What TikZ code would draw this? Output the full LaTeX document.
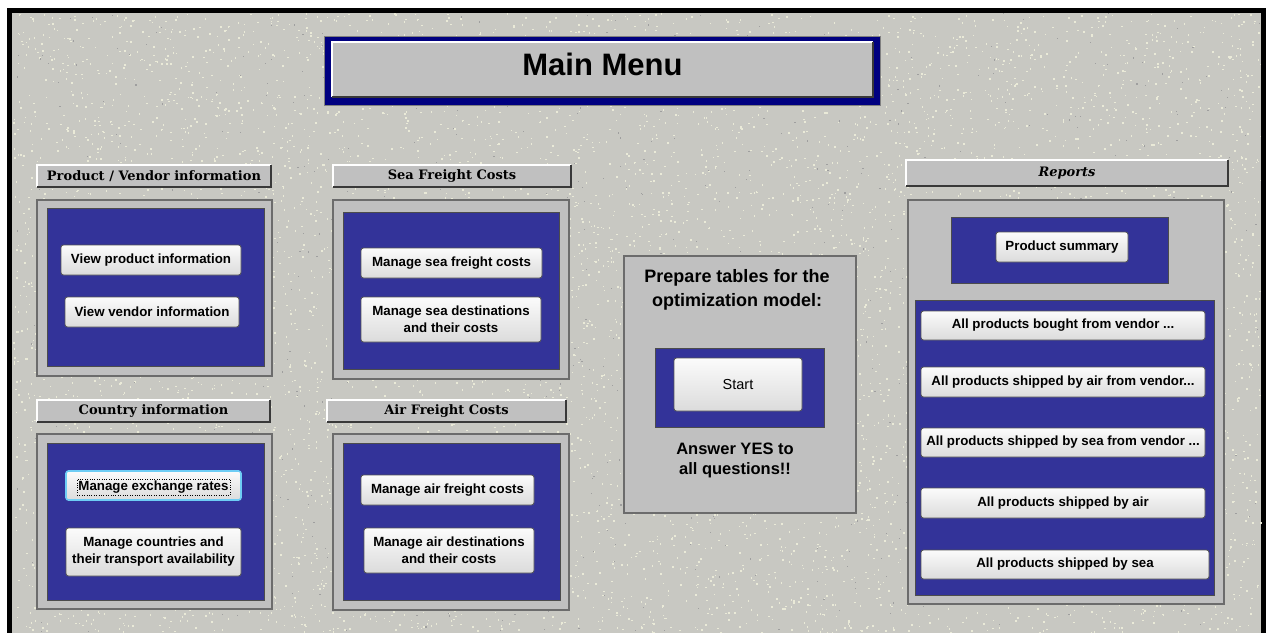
\documentclass[tikz,border=0pt]{standalone}
\usepackage{fontspec}
\setmainfont{Liberation Sans}
\newfontfamily\headfont{DejaVu Serif}

\definecolor{panelgray}{RGB}{192,192,192}
\definecolor{menublue}{RGB}{51,51,153}
\definecolor{navyframe}{RGB}{0,0,128}
\definecolor{bggray}{RGB}{200,200,194}
\definecolor{speck}{RGB}{234,234,216}
\definecolor{focusblue}{RGB}{110,205,245}

\tikzset{
  spot/.style args={#1/#2/#3/#4}{at={(0.5*#1+0.5*#3,0.5*#2+0.5*#4)},
    minimum width={#3-#1}, minimum height={#4-#2}},
  headbar/.style={fill=panelgray, inner sep=0pt, font=\headfont\bfseries\fontsize{13}{15}\selectfont},
  panel/.style={fill=panelgray, draw=gray!85!black, line width=1.2pt, inner sep=0pt},
  bluebox/.style={fill=menublue, draw=gray!60!black, line width=0.8pt, inner sep=0pt},
  btn/.style={rounded corners=2.5pt, draw=gray!65!black, line width=0.8pt,
    top color=white!97!gray, bottom color=gray!28, inner sep=0pt, align=center,
    font=\bfseries\fontsize{13.3}{17}\selectfont},
}

\begin{document}
\begin{tikzpicture}[x=1pt,y=-1pt]
  \useasboundingbox (0,0) rectangle (1268,632);

  % sheet with its speckled texture
  \node[fill=bggray, draw=black, line width=5pt, inner sep=0pt, spot=9.5/10/1263.5/650] (sheet) {};
  \pgfmathsetseed{42}
  \foreach \i in {1,...,7500} {\fill[speck] (13+1247*rnd, 13+620*rnd) rectangle ++(1.5,1.5);}
  \foreach \i in {1,...,700} {\fill[gray!75] (13+1247*rnd, 13+620*rnd) rectangle ++(1.2,1.2);}

  % title
  \node[fill=navyframe, draw=gray, line width=0.5pt, inner sep=0pt, spot=324/36/880/105] (menuframe) {};
  \node[fill=panelgray, inner sep=0pt, text depth=10pt, spot=332/42/873/97, font=\bfseries\fontsize{31}{36}\selectfont] (maintitle) {Main Menu};

  % headings
  \node[headbar, spot=37/165/271/187] (pvhead) {Product / Vendor information};
  \node[headbar, spot=37/400/270/422] (cthead) {Country information};
  \node[headbar, spot=333/165/571/187] (seahead) {Sea Freight Costs};
  \node[headbar, spot=327/400/566/422] (airhead) {Air Freight Costs};
  \node[headbar, spot=906/160/1228/186] (rephead) {\itshape Reports};
  \foreach \h in {maintitle,pvhead,cthead,seahead,airhead,rephead} {
    \draw[white, line width=1.5pt] (\h.south west) |- (\h.north east);
    \draw[gray!45!black, line width=2pt] (\h.south west) -| (\h.north east);
  }

  % panels
  \node[panel, spot=37/200/272/376] (pvpanel) {};
  \node[bluebox, spot=47/208/264/366] (pvblue) {};
  \node[panel, spot=37/434/272/609] (ctpanel) {};
  \node[bluebox, spot=47/443/264/600] (ctblue) {};
  \node[panel, spot=333/200/569/379] (seapanel) {};
  \node[bluebox, spot=343/212/559/369] (seablue) {};
  \node[panel, spot=333/434/569/610] (airpanel) {};
  \node[bluebox, spot=343/443/560/600] (airblue) {};
  \node[panel, spot=624/256/856/513] (preppanel) {};
  \node[bluebox, spot=655/348/824/427] (startblue) {};
  \node[panel, spot=908/200/1224/604] (reppanel) {};
  \node[bluebox, spot=951/217/1168/283] (sumblue) {};
  \node[bluebox, spot=915/300/1214/595] (listblue) {};

  % buttons
  \node[btn, spot=61/245/241/275] (viewprod) {View product information};
  \node[btn, spot=65/297/239/327] (viewvend) {View vendor information};
  \node[btn, draw=focusblue, line width=1.6pt, spot=66/471/241/500] (exch) {};
  \node[draw, dotted, thin, inner xsep=1.5pt, inner ysep=2pt, font=\bfseries\fontsize{13.3}{17}\selectfont] (exchtxt) at ([yshift=-1.5pt]exch.center) {Manage exchange rates};
  \node[btn, spot=66/528/241/576] (countries) {Manage countries and\\their transport availability};
  \node[btn, spot=361/248/542/278] (seacost) {Manage sea freight costs};
  \node[btn, spot=361/297/541/342] (seadest) {Manage sea destinations\\and their costs};
  \node[btn, spot=361/475/534/505] (aircost) {Manage air freight costs};
  \node[btn, spot=364/528/534/573] (airdest) {Manage air destinations\\and their costs};
  \node[btn, spot=674/358/802/411, font=\fontsize{14.5}{17}\selectfont] (start) {Start};
  \node[btn, spot=996/232/1128/262] (prodsum) {Product summary};
  \node[btn, spot=921/311/1205/340] (rep1) {All products bought from vendor ...};
  \node[btn, spot=921/367/1205/397] (rep2) {All products shipped by air from vendor...};
  \node[btn, spot=921/428/1205/457] (rep3) {All products shipped by sea from vendor ...};
  \node[btn, spot=921/488/1205/518] (rep4) {All products shipped by air};
  \node[btn, spot=921/550/1209/579] (rep5) {All products shipped by sea};

  % texts of the middle panel
  \node[align=center, font=\bfseries\fontsize{18}{23.5}\selectfont] (preptxt) at (737,290) {Prepare tables for the\\optimization model:};
  \node[align=center, font=\bfseries\fontsize{16.5}{20}\selectfont] (answertxt) at (735,460) {Answer YES to\\all questions!!};
\end{tikzpicture}
\end{document}
